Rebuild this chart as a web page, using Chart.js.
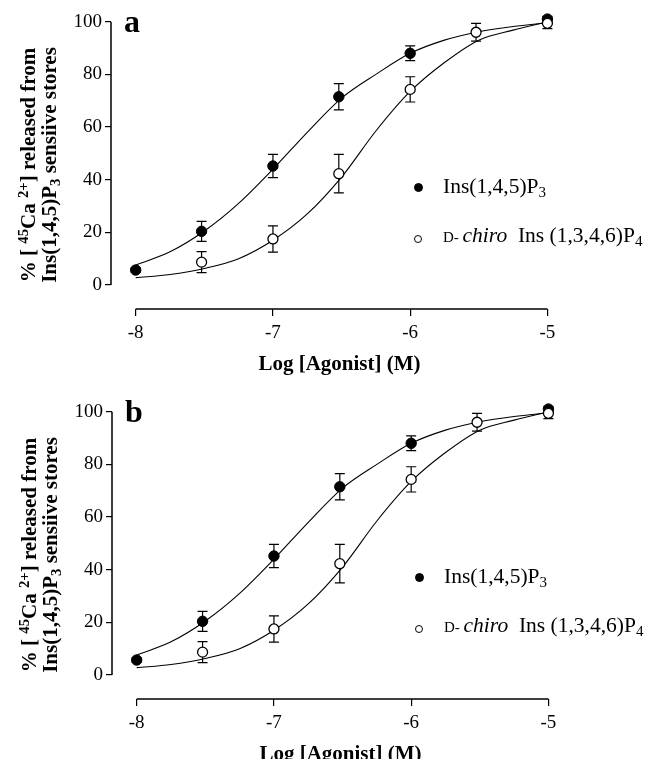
<!DOCTYPE html>
<html>
<head>
<meta charset="utf-8">
<script src="https://cdn.jsdelivr.net/npm/chart.js@4.4.1/dist/chart.umd.min.js"></script>
<style>
    html, body { margin: 0; padding: 0; background: #fff; overflow: hidden; }
    body { width: 647px; height: 759px; position: relative; font-family: "Liberation Serif", "Times New Roman", serif; color: #000; }
    .panel { position: absolute; width: 647px; height: 380px; }
    .panel canvas { position: absolute; left: 0; top: 0; }
    .ytitle { position: absolute; left: -112px; top: 146px; width: 300px; height: 38px; transform: rotate(-90deg);
              font-weight: bold; font-size: 21px; line-height: 19px; text-align: center; white-space: nowrap; }
    .letter { position: absolute; left: 124px; top: 5px; font-weight: bold; font-size: 32px; line-height: 32px; }
    .leg { position: absolute; left: 443px; font-size: 21.5px; line-height: 20px; white-space: nowrap; }
    .dot { position: absolute; border-radius: 50%; box-sizing: border-box; border: 1.3px solid #000; }
    .sup { position: relative; top: -0.45em; font-size: 0.7em; }
    .sub { position: relative; top: 0.3em; font-size: 0.7em; }
</style>
</head>
<body>
<div class="panel" style="left:0; top:0;">
    <canvas id="chartA" width="647" height="380"></canvas>
    <div class="ytitle">% [ <span class="sup">45</span>Ca <span class="sup">2+</span>] released from<br>Ins(1,4,5)P<span class="sub">3</span> sensiive stores</div>
    <div class="letter">a</div>
    <div class="dot" style="left:413.5px; top:182.5px; width:9px; height:9px; background:#000;"></div>
    <div class="leg" style="top:175.5px;">Ins(1,4,5)P<span class="sub">3</span></div>
    <div class="dot" style="left:414px; top:234.5px; width:8px; height:8px; background:#fff;"></div>
    <div class="leg" style="top:224.5px;"><span style="font-size:15px;">D- </span><i>chiro</i>&nbsp; Ins (1,3,4,6)P<span class="sub">4</span></div>
</div>
<div class="panel" style="left:1px; top:390px;">
    <canvas id="chartB" width="647" height="380"></canvas>
    <div class="ytitle">% [ <span class="sup">45</span>Ca <span class="sup">2+</span>] released from<br>Ins(1,4,5)P<span class="sub">3</span> sensiive stores</div>
    <div class="letter">b</div>
    <div class="dot" style="left:413.5px; top:182.5px; width:9px; height:9px; background:#000;"></div>
    <div class="leg" style="top:175.5px;">Ins(1,4,5)P<span class="sub">3</span></div>
    <div class="dot" style="left:414px; top:234.5px; width:8px; height:8px; background:#fff;"></div>
    <div class="leg" style="top:224.5px;"><span style="font-size:15px;">D- </span><i>chiro</i>&nbsp; Ins (1,3,4,6)P<span class="sub">4</span></div>
</div>
<script>
// veriler
const xTicks = [-8, -7, -6, -5];
const yTicks = [0, 20, 40, 60, 80, 100];

const ip3Dose = [-8, -7.52, -7, -6.52, -6, -5];
const ip3Mean = [5.7, 20.4, 45.2, 71.5, 88.0, 101.0];
const ip3Sem  = [0.8, 3.8, 4.4, 5.0, 2.8, 1.0];

const ip4Dose = [-7.52, -7, -6.52, -6, -5.52, -5];
const ip4Mean = [8.7, 17.5, 42.3, 74.3, 96.0, 99.4];
const ip4Sem  = [4.0, 5.0, 7.3, 4.8, 3.4, 2.0];

// eğri (fit) değerleri
const fitDose = [-8, -7.75, -7.5, -7.25, -7, -6.75, -6.5, -6.25, -6, -5.75, -5.5, -5.25, -5];
const ip3Fit  = [7.6, 12.6, 20.5, 31, 44, 58, 71, 80, 88, 93, 96.2, 98.2, 99.6];
const ip4Fit  = [2.8, 4, 6.3, 10, 17, 27, 41, 58.5, 73.5, 84.5, 93, 96.8, 100];

const serif = '"Liberation Serif", "Times New Roman", serif';

function pts(xs, ys) {
    return xs.map((x, i) => ({ x: x, y: ys[i] }));
}

// hata çubukları
const errorBars = {
    id: 'errorBars',
    beforeDatasetsDraw(chart) {
        const ctx = chart.ctx;
        const xs = chart.scales.x, ys = chart.scales.y;
        ctx.save();
        ctx.strokeStyle = '#000';
        ctx.lineWidth = 1.2;
        [[ip3Dose, ip3Mean, ip3Sem], [ip4Dose, ip4Mean, ip4Sem]].forEach(function(s) {
            s[0].forEach(function(d, i) {
                const px = xs.getPixelForValue(d);
                const hi = ys.getPixelForValue(s[1][i] + s[2][i]);
                const lo = ys.getPixelForValue(s[1][i] - s[2][i]);
                ctx.beginPath();
                ctx.moveTo(px, hi); ctx.lineTo(px, lo);
                ctx.moveTo(px - 5, hi); ctx.lineTo(px + 5, hi);
                ctx.moveTo(px - 5, lo); ctx.lineTo(px + 5, lo);
                ctx.stroke();
            });
        });
        ctx.restore();
    }
};

// eksen çizgileri (ayrık eksenler)
const axisLines = {
    id: 'axisLines',
    afterDraw(chart) {
        const ctx = chart.ctx;
        const xs = chart.scales.x, ys = chart.scales.y;
        const area = chart.chartArea;
        ctx.save();
        ctx.strokeStyle = '#000';
        ctx.lineWidth = 1.5;
        ctx.beginPath();
        ctx.moveTo(area.left, ys.getPixelForValue(yTicks[yTicks.length - 1]));
        ctx.lineTo(area.left, ys.getPixelForValue(yTicks[0]));
        ctx.moveTo(xs.getPixelForValue(xTicks[0]), area.bottom);
        ctx.lineTo(xs.getPixelForValue(xTicks[xTicks.length - 1]), area.bottom);
        ctx.stroke();
        ctx.restore();
    }
};

function drawPanel(id) {
    const ctx = document.getElementById(id).getContext('2d');
    new Chart(ctx, {
        type: 'scatter',
        data: {
            datasets: [{
                label: 'Ins(1,4,5)P3',
                data: pts(ip3Dose, ip3Mean),
                pointRadius: 5.2,
                pointBackgroundColor: '#000',
                pointBorderColor: '#000',
                pointBorderWidth: 1,
                clip: false,
                order: 1
            }, {
                label: 'D-chiro Ins(1,3,4,6)P4',
                data: pts(ip4Dose, ip4Mean),
                pointRadius: 5,
                pointBackgroundColor: '#fff',
                pointBorderColor: '#000',
                pointBorderWidth: 1.3,
                clip: false,
                order: 0
            }, {
                type: 'line',
                data: pts(fitDose, ip3Fit),
                borderColor: '#000',
                borderWidth: 1.1,
                pointRadius: 0,
                cubicInterpolationMode: 'monotone',
                fill: false,
                clip: false,
                order: 3
            }, {
                type: 'line',
                data: pts(fitDose, ip4Fit),
                borderColor: '#000',
                borderWidth: 1.1,
                pointRadius: 0,
                cubicInterpolationMode: 'monotone',
                fill: false,
                clip: false,
                order: 2
            }]
        },
        options: {
            responsive: false,
            animation: false,
            layout: { padding: { left: 0, top: 21.7, right: 79, bottom: 0 } },
            plugins: {
                legend: { display: false },
                tooltip: { enabled: false }
            },
            scales: {
                x: {
                    type: 'linear',
                    min: -8.18,
                    max: -4.85,
                    afterBuildTicks: function(s) { s.ticks = xTicks.map(v => ({ value: v })); },
                    afterFit: function(s) { s.height = 71; },
                    grid: { drawOnChartArea: false, drawTicks: true, tickLength: 7, color: '#000', lineWidth: 1.2 },
                    border: { display: false },
                    ticks: { color: '#000', font: { family: serif, size: 19 }, padding: 6, maxRotation: 0 },
                    title: {
                        display: true,
                        text: 'Log [Agonist] (M)',
                        color: '#000',
                        font: { family: serif, size: 21, weight: 'bold' },
                        padding: { top: 0, bottom: 3 }
                    }
                },
                y: {
                    type: 'linear',
                    min: -9.1,
                    max: 100,
                    afterBuildTicks: function(s) { s.ticks = yTicks.map(v => ({ value: v })); },
                    afterFit: function(s) { s.width = 111; },
                    grid: { drawOnChartArea: false, drawTicks: true, tickLength: 6, color: '#000', lineWidth: 1.2 },
                    border: { display: false },
                    ticks: { color: '#000', font: { family: serif, size: 19 }, padding: 3 }
                }
            }
        },
        plugins: [errorBars, axisLines]
    });
}

drawPanel('chartA');
drawPanel('chartB');
</script>
</body>
</html>
